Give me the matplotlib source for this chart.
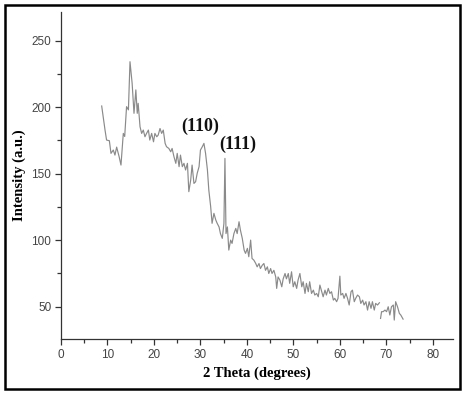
import matplotlib
matplotlib.use('Agg')
import matplotlib.pyplot as plt
from matplotlib.patches import Rectangle
from matplotlib.ticker import MultipleLocator
import numpy as np

# XRD pattern (2 theta in degrees, intensity in a.u.)
two_theta = [
    8.75, 9.46, 9.8, 10.4, 10.75, 11.25, 11.6, 11.97, 12.5, 12.9, 13.4, 13.7,
    14.1, 14.5, 14.84, 15.3, 15.7, 16.1, 16.4, 16.6, 17.0, 17.35, 17.7, 18.06,
    18.4, 18.8, 19.1, 19.5, 19.9, 20.2, 20.6, 20.9, 21.3, 21.65, 22.0, 22.4,
    22.7, 23.2, 23.6, 23.9, 24.3, 24.7, 25.0, 25.4, 25.7, 26.1, 26.45, 26.8,
    27.2, 27.5, 27.9, 28.2, 28.6, 28.96, 29.3, 29.7, 30.0, 30.4, 30.75, 31.1,
    31.5, 31.8, 32.2, 32.5, 32.9, 33.3, 33.6, 34.0, 34.3, 34.7, 35.05, 35.27,
    35.5, 35.8, 36.1, 36.5, 36.8, 37.2, 37.6, 37.9, 38.3, 38.6, 39.0, 39.4,
    39.7, 40.1, 40.4, 40.8, 41.1, 41.5, 41.9, 42.2, 42.6, 42.9, 43.3, 43.65,
    44.0, 44.4, 44.7, 45.1, 45.4, 45.8, 46.2, 46.4, 46.7, 47.1, 47.5, 47.8,
    48.2, 48.5, 48.9, 49.2, 49.6, 49.96, 50.3, 50.7, 51.0, 51.4, 51.8, 52.1,
    52.5, 52.8, 53.2, 53.5, 53.9, 54.3, 54.6, 55.0, 55.35, 55.7, 56.1, 56.4,
    56.8, 57.1, 57.5, 57.85, 58.2, 58.6, 58.9, 59.3, 59.6, 60.0, 60.2, 60.6,
    60.9, 61.3, 61.65, 62.0, 62.4, 62.7, 63.1, 63.4, 63.8, 64.2, 64.5, 64.9,
    65.2, 65.6, 65.95, 66.3, 66.7, 67.0, 67.4, 67.7, 68.1, 68.5, 68.6, 68.75,
    68.97, 69.3, 69.7, 70.05, 70.4, 70.75, 71.1, 71.5, 71.7, 72.0, 72.4, 72.8,
    73.1, 73.6,
]
intensity = [
    200.9, 183, 175.3, 174.8, 165.3, 167.8, 164, 170, 162.8, 156.5, 180.3, 178,
    200.4, 198, 234.2, 218, 195.4, 213, 195.4, 202.9, 185.3, 180.3, 182.8, 177.8,
    180.3, 182.8, 175.3, 180.3, 174, 180.3, 177.8, 179, 184, 180.3, 182.8, 172.8,
    170.3, 169, 166.5, 169, 162.8, 157.8, 165.3, 155.3, 164, 155.3, 157.8, 152.8,
    157.8, 136.5, 145.2, 156.5, 142.7, 144, 150.3, 155.3, 167.8, 170.3, 172.8, 165.3,
    152.8, 137.7, 125.2, 112.7, 120.2, 115.2, 112.7, 110, 105, 101.4, 112.7, 161.5,
    105, 110, 92.6, 100.1, 97.6, 105, 108.9, 105, 113.9, 107.6, 101.4, 92.6,
    90.1, 93.9, 87.6, 100.1, 86.3, 85, 82.5, 80, 82.5, 78.7, 81.2, 82.5,
    77.4, 80, 75, 78.7, 75, 77.4, 72.4, 63.8, 72.4, 70, 65, 71,
    75, 71, 75, 67.6, 76.3, 65, 68.8, 63.8, 70, 75, 65, 68.8,
    60, 67.6, 61.3, 68.8, 60, 62.5, 58.8, 60, 57.5, 66.3, 61.3, 57.5,
    62.5, 58.8, 63.8, 60, 61.3, 55, 56.3, 53.8, 56.3, 73, 58.8, 60,
    56.3, 60, 56.3, 51.3, 61.3, 62.5, 53.8, 56.3, 58.8, 57.5, 52.5, 55,
    51.3, 53.8, 47.5, 53.8, 48.8, 53.8, 47.5, 52.5, 51.3, 53, np.nan, 41.2,
    46.3, 46.3, 47.5, 46.3, 50, 43.8, 50, 51.3, 40, 53.8, 50, 45,
    43.8, 40.7,
]

peak_labels = ['(110)', '(111)']
peak_pos = [29.9, 38.1]
peak_height = [185.8, 172.3]

serif = ['Liberation Serif', 'DejaVu Serif']
plt.rcParams['font.family'] = ['Liberation Sans', 'DejaVu Sans']

fig = plt.figure(figsize=(4.63, 4.12), dpi=100)
ax = fig.add_axes([0.1318, 0.177, 0.8462, 0.794])

ax.plot(two_theta, intensity, color='#8a8a8a', lw=0.85)

for lab, x, y in zip(peak_labels, peak_pos, peak_height):
    ax.text(x, y, lab, ha='center', va='center', fontsize=13,
            fontweight='bold', family=serif, color='#111111')

ax.set_xlim(0, 84.3)
ax.set_ylim(25.7, 271.6)
ax.xaxis.set_major_locator(MultipleLocator(10))
ax.xaxis.set_minor_locator(MultipleLocator(5))
ax.yaxis.set_major_locator(MultipleLocator(50))
ax.yaxis.set_minor_locator(MultipleLocator(25))
ax.set_yticks([50, 100, 150, 200, 250])

ax.spines['top'].set_visible(False)
ax.spines['right'].set_visible(False)
for side in ('left', 'bottom'):
    ax.spines[side].set_color('#333333')
    ax.spines[side].set_linewidth(0.9)

ax.tick_params(which='major', direction='out', length=4, width=0.9,
               color='#333333', labelsize=8.5, labelcolor='#444444', pad=3)
ax.tick_params(which='minor', direction='out', length=3, width=0.9,
               color='#333333')

ax.set_xlabel('2 Theta (degrees)', fontsize=10.5, fontweight='bold',
              family=serif, labelpad=4)
ax.set_ylabel('Intensity (a.u.)', fontsize=10.5, fontweight='bold',
              family=serif, labelpad=4)

# black frame around the whole figure panel
fig.patches.append(Rectangle((5 / 463, (412 - 389) / 412), 455 / 463, 384 / 412,
                             transform=fig.transFigure, fill=False,
                             edgecolor='black', linewidth=1.8))

fig.savefig('out.png', dpi=100)
plt.close(fig)
